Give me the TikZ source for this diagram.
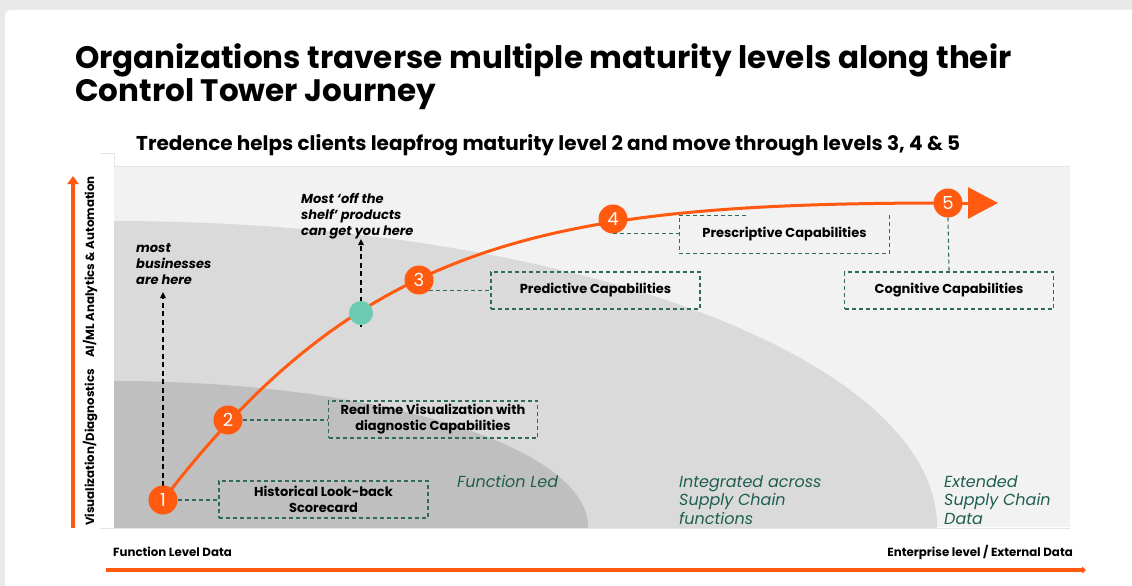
\documentclass[tikz,border=0pt]{standalone}
\usepackage{fontspec}
\setmainfont{Poppins}
\usetikzlibrary{arrows.meta}
\definecolor{tdorange}{HTML}{FF5A0F}
\definecolor{boxgreen}{HTML}{2F6B5C}
\definecolor{labgreen}{HTML}{1F5F4F}
\definecolor{zoneL}{HTML}{F2F2F2}
\definecolor{zoneM}{HTML}{DADADA}
\definecolor{zoneD}{HTML}{BFBFBF}
\definecolor{mint}{HTML}{6CCBB1}
\definecolor{frame}{HTML}{E4E4E4}
\definecolor{outer}{HTML}{E9E9E9}
\tikzset{
  level/.style={circle, fill=tdorange, minimum size=29pt, inner sep=0pt,
    text=white, font=\fontsize{18}{18}\selectfont},
  capbox/.style={draw=boxgreen, line width=1.1pt, dash pattern=on 4pt off 3pt,
    minimum width=209pt, minimum height=37pt, inner sep=0pt, align=center,
    font=\fontsize{13}{16}\selectfont\bfseries},
  capline/.style={draw=boxgreen, line width=1.1pt, dash pattern=on 4pt off 3pt},
  zonelabel/.style={anchor=base west, align=left, text=labgreen,
    font=\fontsize{16}{18.5}\selectfont\itshape, inner sep=0pt},
  note/.style={anchor=base west, align=left, inner sep=0pt,
    font=\fontsize{13}{16}\selectfont\bfseries\itshape},
  pointer/.style={draw=black, line width=1.3pt, dash pattern=on 5pt off 3.5pt,
    -{Triangle[length=6pt,width=5.5pt]}},
  axislabel/.style={inner sep=0pt, font=\fontsize{11.8}{12}\selectfont\bfseries},
}
\begin{document}
\begin{tikzpicture}[x=1pt,y=-1pt]
\useasboundingbox (0,0) rectangle (1132,586);

% page background and white card
\fill[outer] (0,0) rectangle (1132,586);
\fill[white, rounded corners=6pt] (5,10) rectangle (1150,600);

% title and subtitle
\node[anchor=base west, inner sep=0pt, font=\fontsize{31}{33}\selectfont\bfseries]
  (title1) at (75,68) {Organizations traverse multiple maturity levels along their};
\node[anchor=base west, inner sep=0pt, font=\fontsize{31}{33}\selectfont\bfseries]
  (title2) at (75,101) {Control Tower Journey};
\node[anchor=base west, inner sep=0pt, font=\fontsize{20}{22}\selectfont\bfseries]
  (subtitle) at (136,150) {Tredence helps clients leapfrog maturity level 2 and move through levels 3, 4 \& 5};

% chart zones
\fill[zoneL] (114,166) rectangle (1070,527);
\begin{scope}
  \clip (114,166) rectangle (1070,527);
  \fill[zoneM] (114,527) ellipse [x radius=823pt, y radius=306pt];
  \fill[zoneD] (114,527) ellipse [x radius=474pt, y radius=146pt];
\end{scope}
\draw[frame, line width=0.8pt] (100,153) -- (114,153) -- (114,166) -- (1070,166);
\draw[frame, line width=0.8pt] (100,528) -- (1070,528);

% zone captions (anchored at the baseline of their last line)
\node[zonelabel] (zfunc) at (457,487) {Function Led};
\node[zonelabel] (zint) at (679,524) {Integrated across\\Supply Chain\\functions};
\node[zonelabel] (zext) at (944,524) {Extended\\Supply Chain\\Data};

% axes
\coordinate (ybot) at (73,528);
\coordinate (ytop) at (73,176);
\draw[tdorange, line width=4.5pt, -{Triangle[length=8pt,width=11pt]}] (ybot) -- (ytop);
\node[axislabel, rotate=90, anchor=base west] (yl1) at (94,526) {Visualization/Diagnostics};
\node[axislabel, rotate=90, anchor=base west] (yl2) at (94,358) {AI/ML Analytics \& Automation};

\coordinate (xleft) at (106,570);
\coordinate (xright) at (1086,570);
\draw[tdorange, line width=4.5pt, -{Triangle[length=4pt,width=7pt]}] (xleft) -- (xright);
\node[axislabel, anchor=base west] (xl1) at (113,556) {Function Level Data};
\node[axislabel, anchor=base east] (xl2) at (1073,556) {Enterprise level / External Data};

% maturity curve
\coordinate (p1) at (163,500);
\coordinate (p2) at (228,420);
\coordinate (pg) at (361,313);
\coordinate (p3) at (419,280);
\coordinate (p4) at (613,219);
\coordinate (p5) at (948,203);
\coordinate (tip) at (998,203);
\draw[tdorange, line width=3pt] (p1) .. controls (363,240) and (548,203) .. (p5);
\draw[tdorange, line width=3pt, -{Triangle[length=30pt,width=31pt]}] (p5) -- (tip);

% pointers
\coordinate (n1from) at (163,486);
\coordinate (n1to) at (163,292);
\draw[pointer] (n1from) -- (n1to);
\node[note] (most) at (136,284) {most\\businesses\\are here};
\coordinate (n2from) at (361,327);
\coordinate (n2to) at (361,239);
\draw[pointer] (n2from) -- (n2to);
\node[note] (shelf) at (301,235) {Most ‘off the\\shelf’ products\\can get you here};

% level markers
\node[circle, fill=mint, minimum size=24pt, inner sep=0pt] (green) at (pg) {};
\node[level] (c1) at (p1) {1};
\node[level] (c2) at (p2) {2};
\node[level] (c3) at (p3) {3};
\node[level] (c4) at (p4) {4};
\node[level] (c5) at (p5) {5};

% capability boxes
\node[capbox] (hist) at (323.5,499.5) {Historical Look-back\\Scorecard};
\node[capbox] (real) at (433,419.5) {Real time Visualization with\\diagnostic Capabilities};
\node[capbox] (pred) at (595.5,290.5) {Predictive Capabilities};
\node[capbox, draw=none] (presc) at (784.5,234.5) {Prescriptive Capabilities};
\draw[capline] ([xshift=67pt]presc.north west) -- (presc.north west) -- (presc.south west)
  -- (presc.south east) -- (presc.north east);
\node[capbox] (cogn) at (949,290.5) {Cognitive Capabilities};

% connectors
\draw[capline] (c1.east) -- (c1.east -| hist.west);
\draw[capline] (c2.east) -- (c2.east -| real.west);
\draw[capline] (c3.-45) -- (c3.-45 -| pred.west);
\draw[capline] (c4.south) -- (c4.south -| presc.west);
\draw[capline] (c5.south) -- (cogn.north);
\end{tikzpicture}
\end{document}
